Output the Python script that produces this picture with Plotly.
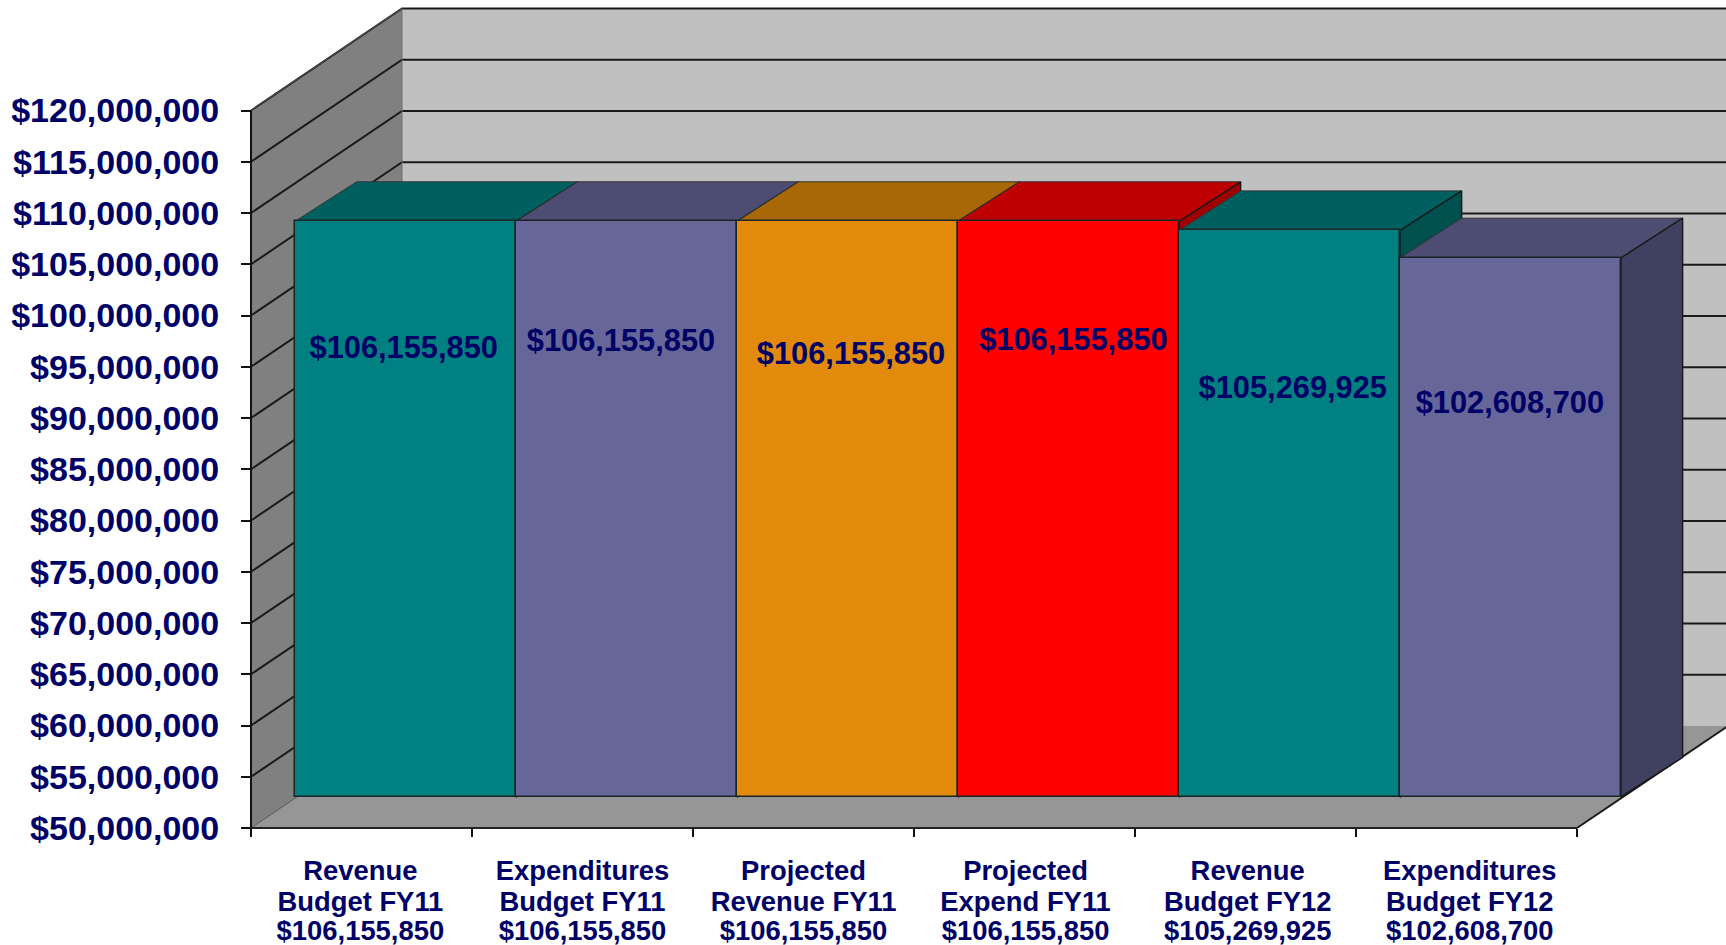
import plotly.graph_objects as go

# ---- data ----
line1 = ["Revenue", "Expenditures", "Projected", "Projected", "Revenue", "Expenditures"]
line2 = ["Budget FY11", "Budget FY11", "Revenue FY11", "Expend FY11", "Budget FY12", "Budget FY12"]
values = [106155850, 106155850, 106155850, 106155850, 105269925, 102608700]
y_ticks = list(range(50000000, 120000001, 5000000))

# ---- styles ----
front = ["#008080", "#666699", "#E28A0C", "#FF0000", "#008080", "#666699"]
top = ["#006060", "#4D4D73", "#A96807", "#BF0000", "#006060", "#4D4D73"]
side = ["#005050", "#404060", "#8C5606", "#A00000", "#005050", "#404060"]
NAVY = "#000066"
FONT = "Liberation Sans"
W, H = 1726, 945

# ---- geometry of the pseudo-3D box (figure pixels -> axis units) ----
CAT_PX, M_PX = 221.0, 10.25 / 1e6
X0_PX, Y0_PX = 251.0, 828.0
YMIN = 50000000
xr = [-X0_PX / CAT_PX, (W - X0_PX) / CAT_PX]
yr = [YMIN - (H - Y0_PX) / M_PX, YMIN + Y0_PX / M_PX]
WALL_X, WALL_Y = 151 / CAT_PX, 102 / M_PX      # depth of the whole box
FRONT_X, FRONT_Y = 44 / CAT_PX, 31 / M_PX      # bars' front plane
DEPTH_X, DEPTH_Y = 61.6 / CAT_PX, 39.6 / M_PX  # bars' depth
N = len(values)

fig = go.Figure()


def poly(xs, ys, fill, line="rgba(0,0,0,0)", width=0):
    fig.add_trace(go.Scatter(x=xs + xs[:1], y=ys + ys[:1], mode="lines", fill="toself",
                             fillcolor=fill, line=dict(color=line, width=width),
                             hoverinfo="skip", showlegend=False))


def seg(xs, ys, color="#1a1a1a", width=2):
    fig.add_trace(go.Scatter(x=xs, y=ys, mode="lines", line=dict(color=color, width=width),
                             hoverinfo="skip", showlegend=False))


YMAX = y_ticks[-1]
# back wall, left wall, floor
poly([WALL_X, xr[1] + 1, xr[1] + 1, WALL_X], [YMIN + WALL_Y, YMIN + WALL_Y, YMAX + WALL_Y, YMAX + WALL_Y], "#C0C0C0")
poly([0, WALL_X, WALL_X, 0], [YMIN, YMIN + WALL_Y, YMAX + WALL_Y, YMAX], "#808080")
poly([0, N, N + WALL_X, WALL_X], [YMIN, YMIN, YMIN + WALL_Y, YMIN + WALL_Y], "#969696")

# grid lines on the walls
for t in y_ticks:
    if t > YMIN:
        seg([0, WALL_X, xr[1] + 1], [t, t + WALL_Y, t + WALL_Y])
seg([WALL_X, WALL_X], [YMIN + WALL_Y, YMAX + WALL_Y], "#707070", 1)
seg([0, WALL_X], [YMAX, YMAX + WALL_Y], "#555555", 1)
seg([0, WALL_X], [YMIN, YMIN + WALL_Y], "#555555", 1)
seg([N, N + WALL_X], [YMIN, YMIN + WALL_Y], "#1a1a1a", 2)

# top and side faces of the bars, left to right
for i, v in enumerate(values):
    xl, xh = i + FRONT_X, i + 1 + FRONT_X
    yb, yt = YMIN + FRONT_Y, v + FRONT_Y
    poly([xl, xh, xh + DEPTH_X, xl + DEPTH_X], [yt, yt, yt + DEPTH_Y, yt + DEPTH_Y], top[i], "#333333", 1)
    poly([xh, xh + DEPTH_X, xh + DEPTH_X, xh], [yt, yt + DEPTH_Y, yb + DEPTH_Y, yb], side[i], "#1a1a1a", 1.5)

# axis lines
seg([0, 0], [YMIN, YMAX], "#111111", 2)
seg([0, N], [YMIN, YMIN], "#222222", 2)

# bar fronts on an overlay whose origin is shifted to the bars' plane
fig.add_trace(go.Bar(x=[i + 0.5 for i in range(N)], y=[v - YMIN for v in values], base=YMIN, width=1,
                     marker=dict(color=front, line=dict(color="#1a2626", width=1.5)),
                     xaxis="x2", yaxis="y2", hoverinfo="skip", showlegend=False))

# data labels (anchors in the bars' plane, as placed in the reference)
label_x = [0.492, 1.475, 2.516, 3.522, 4.515, 5.497]
label_y = [93620000, 94300000, 93030000, 94400000, 89680000, 88170000]
fig.add_trace(go.Scatter(x=label_x, y=label_y, mode="text", text=[f"${v:,}" for v in values],
                         textposition="middle center", xaxis="x2", yaxis="y2",
                         textfont=dict(family=FONT, size=30.8, color=NAVY, weight=700),
                         hoverinfo="skip", showlegend=False))

# category labels, three tight lines under the axis
cat_x = [0.495, 1.5, 2.5, 3.505, 4.51, 5.515]
for txt, px in ((line1, 873), (line2, 904.5), ([f"${v:,}" for v in values], 933.5)):
    fig.add_trace(go.Scatter(x=cat_x, y=[YMIN - (px - Y0_PX) / M_PX] * N,
                             mode="text", text=txt, textposition="middle center",
                             textfont=dict(family=FONT, size=27.4, color=NAVY, weight=700),
                             hoverinfo="skip", showlegend=False))

fig.update_layout(
    width=W, height=H, autosize=False, margin=dict(l=0, r=0, t=0, b=0),
    paper_bgcolor="white", plot_bgcolor="white", bargap=0, showlegend=False,
    xaxis=dict(range=xr, domain=[0, 1], anchor="free", position=(H - Y0_PX) / H, showgrid=False,
               zeroline=False, showline=False, tickmode="array", tickvals=[], showticklabels=False,
               minor=dict(tickmode="array", tickvals=list(range(N + 1)), ticks="outside", ticklen=8,
                          tickwidth=2, tickcolor="#111111", showgrid=False)),
    yaxis=dict(range=yr, domain=[0, 1], anchor="free", position=X0_PX / W, showgrid=False,
               zeroline=False, showline=False, tickmode="array", tickvals=y_ticks,
               ticktext=[f"${t:,}" for t in y_ticks], ticks="outside", ticklen=10, tickwidth=2,
               tickcolor="#111111", ticklabelstandoff=15,
               tickfont=dict(family=FONT, size=34, color=NAVY, weight=700)),
    xaxis2=dict(range=[xr[0] - FRONT_X, xr[1] - FRONT_X], overlaying="x", visible=False),
    yaxis2=dict(range=[yr[0] - FRONT_Y, yr[1] - FRONT_Y], overlaying="y", visible=False),
)

# the page's default 8px body margin would push the figure off the window
fig.write_html("out.html", config={"displayModeBar": False},
               post_script="document.body.style.margin='0';document.documentElement.style.overflow='hidden';")
